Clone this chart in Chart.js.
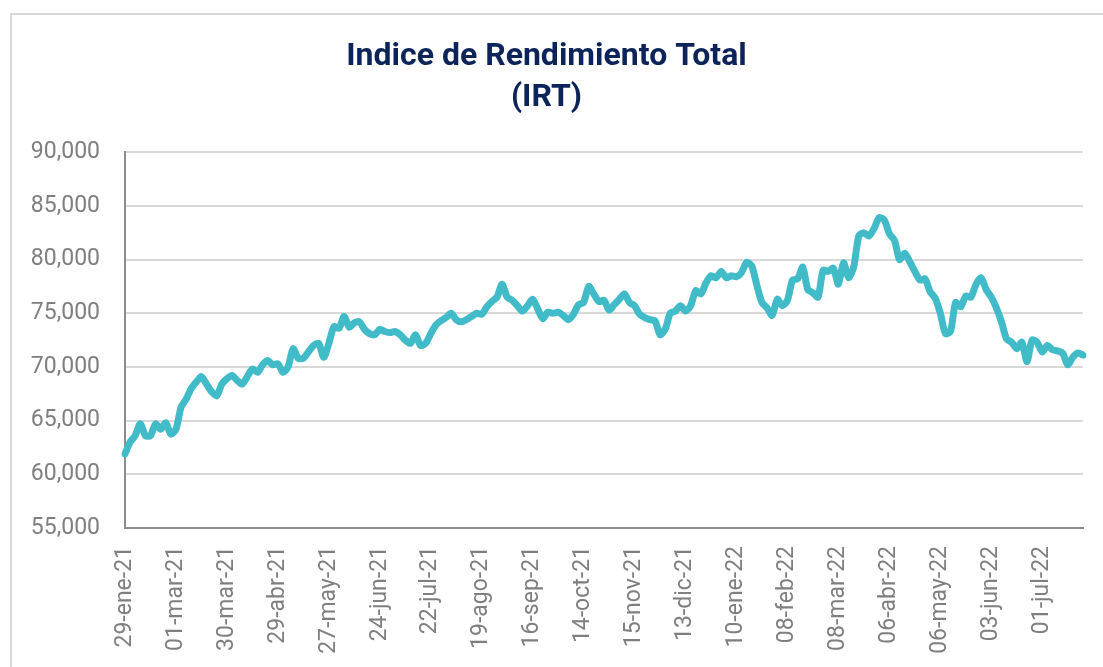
<!DOCTYPE html>
<html>
<head>
<meta charset="utf-8">
<script src="https://cdn.jsdelivr.net/npm/chart.js@4"></script>
<style>
  html, body { margin: 0; padding: 0; background: #fff; }
  #wrap { position: relative; width: 1103px; height: 667px; overflow: hidden; }
  #frame { position: absolute; left: 10px; top: 13px; width: 1120px; height: 700px;
           border-left: 2px solid #d9d9d9; border-top: 2px solid #d9d9d9; }
  #chart { position: absolute; left: 0; top: 0; }
</style>
</head>
<body>
<div id="wrap">
  <div id="frame"></div>
  <canvas id="chart" width="1103" height="667"></canvas>
</div>
<script>
// tick labels, one every 20 trading days (every 10th sample below)
const tickLabels = ['29-ene-21', '01-mar-21', '30-mar-21', '29-abr-21', '27-may-21', '24-jun-21',
  '22-jul-21', '19-ago-21', '16-sep-21', '14-oct-21', '15-nov-21', '13-dic-21', '10-ene-22',
  '08-feb-22', '08-mar-22', '06-abr-22', '06-may-22', '03-jun-22', '01-jul-22'];

const samplesPerTick = 10;

const irtValues = [
  61900, 63000, 63600, 64700, 63600, 63600, 64700, 64200, 64800, 63750,
  64200, 66250, 67000, 68000, 68600, 69100, 68400, 67700, 67300, 68400,
  68900, 69200, 68750, 68400, 69100, 69800, 69500, 70200, 70600, 70200,
  70300, 69500, 70000, 71700, 70800, 70800, 71400, 72000, 72200, 70900,
  72200, 73750, 73600, 74700, 73700, 74100, 74200, 73500, 73100, 73000,
  73500, 73300, 73200, 73300, 73000, 72500, 72200, 73000, 72000, 72200,
  73100, 73900, 74300, 74600, 75000, 74400, 74200, 74400, 74700, 75000,
  74900, 75600, 76100, 76500, 77700, 76500, 76200, 75700, 75200, 75700,
  76300, 75400, 74500, 75100, 75000, 75100, 74800, 74400, 74900, 75800,
  76000, 77500, 76800, 76100, 76200, 75300, 75800, 76300, 76800, 76000,
  75700, 74900, 74600, 74400, 74300, 73000, 73500, 75000, 75200, 75700,
  75200, 75700, 77100, 76800, 77800, 78500, 78300, 78900, 78300, 78500,
  78400, 78800, 79750, 79400, 77600, 76000, 75500, 74800, 76300, 75700,
  76200, 78100, 78200, 79300, 77200, 76900, 76500, 79000, 78900, 79200,
  77700, 79700, 78300, 79300, 82200, 82500, 82200, 82900, 83900, 83700,
  82400, 81800, 80000, 80600, 79800, 78900, 78100, 78200, 77000, 76400,
  75000, 73100, 73300, 76000, 75600, 76600, 76500, 77700, 78300, 77200,
  76500, 75500, 74200, 72600, 72300, 71700, 72300, 70500, 72500, 72300,
  71400, 72000, 71600, 71500, 71300, 70200, 70900, 71300, 71100
];

const yMin = 55000, yMax = 90000, yStep = 5000;

// category labels: a date every 10th sample, blank elsewhere
const labels = irtValues.map((v, i) =>
  i % samplesPerTick === 0 ? (tickLabels[i / samplesPerTick] || '') : '');

new Chart(document.getElementById('chart'), {
  type: 'line',
  data: {
    labels: labels,
    datasets: [{
      label: 'IRT',
      data: irtValues,
      borderColor: '#42bbc9',
      borderWidth: 7,
      pointRadius: 0,
      fill: false,
      tension: 0.25,
      borderCapStyle: 'round',
      borderJoinStyle: 'round',
    }],
  },
  options: {
    responsive: false,
    animation: false,
    layout: { padding: { left: 10, right: 20, top: 0, bottom: 0 } },
    plugins: {
      legend: { display: false },
      tooltip: { enabled: false },
      title: {
        display: true,
        text: ['Indice de Rendimiento Total', '(IRT)'],
        color: '#0c2459',
        font: { family: 'Roboto', size: 32, weight: 'bold', lineHeight: 1.3 },
        padding: { top: 36, bottom: 33 },
      },
    },
    scales: {
      x: {
        grid: { display: false, drawTicks: false },
        border: { display: true, color: '#8c8c8c', width: 2 },
        ticks: {
          autoSkip: false,
          maxRotation: 90,
          minRotation: 90,
          padding: 18,
          color: '#7f7f7f',
          font: { family: 'Roboto', size: 23 },
        },
        afterFit: (s) => { s.height = 139; s.paddingLeft = 0; s.paddingRight = 0; },
      },
      y: {
        min: yMin,
        max: yMax,
        grid: { color: '#d9d9d9', lineWidth: 2, drawTicks: false },
        border: { display: true, color: '#8c8c8c', width: 2 },
        ticks: {
          stepSize: yStep,
          padding: 25,
          color: '#7f7f7f',
          font: { family: 'Roboto', size: 23 },
          callback: (v) => v.toLocaleString('en-US'),
        },
        afterFit: (s) => { s.width = 115; },
      },
    },
  },
});
</script>
</body>
</html>
